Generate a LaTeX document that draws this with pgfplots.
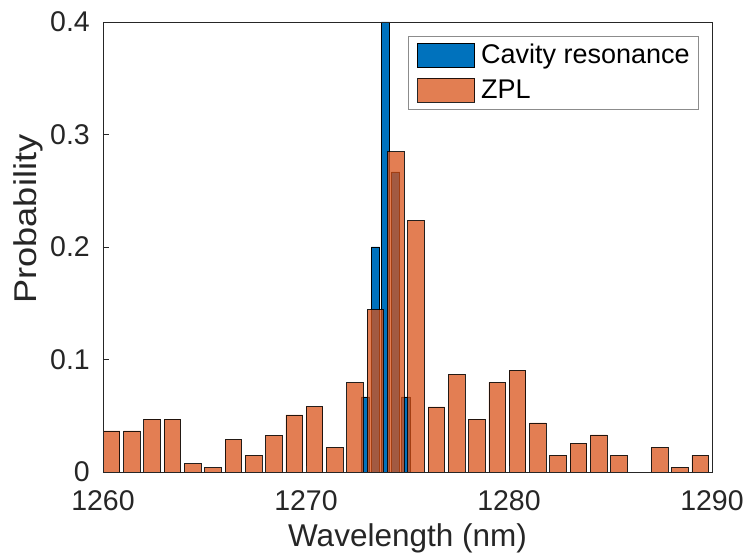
\documentclass[border=0pt]{standalone}
\usepackage{fontspec}
\setmainfont{Liberation Sans}
\usepackage{graphicx}
\usepackage{pgfplots}
\pgfplotsset{compat=1.18}
\definecolor{mblue}{rgb}{0,0.447,0.741}
\definecolor{morange}{rgb}{0.85,0.325,0.098}
\definecolor{axgray}{rgb}{0.15,0.15,0.15}
\begin{document}
\begin{tikzpicture}
\begin{axis}[
  scale only axis, width=609pt, height=450pt,
  xmin=1260, xmax=1290, ymin=0, ymax=0.4,
  xtick={1260,1270,1280,1290}, ytick={0,0.1,0.2,0.3,0.4},
  yticklabels={0,0.1,0.2,0.3,0.4},
  xtick pos=bottom, ytick pos=left,
  /pgf/number format/assume math mode=true,
  /pgf/number format/1000 sep={},
  tick align=inside, major tick length=6pt,
  axis line style={axgray, line width=0.8pt},
  tick style={axgray, line width=0.8pt},
  axis on top,
  tick label style={font=\fontsize{28.5}{30}\selectfont, text=axgray},
  xticklabel style={anchor=north, inner sep=0pt, yshift=-18pt},
  yticklabel style={anchor=east, inner sep=0pt, xshift=-13pt},
  xlabel={Wavelength (nm)},
  ylabel={\scalebox{1.15}[1]{Probability}},
  label style={font=\fontsize{31.5}{33}\selectfont, text=axgray},
  x label style={at={(axis description cs:0.5,-0.166)}, anchor=base, inner sep=0pt},
  y label style={at={(axis description cs:-0.1084,0.562)}, anchor=base, inner sep=0pt},
  legend style={at={(0.9787,0.9689)}, anchor=north east, draw=black!45, line width=0.8pt,
    fill=white, inner xsep=9pt, inner ysep=7pt, row sep=9.5pt, column sep=6pt,
    font=\fontsize{27}{29}\selectfont,
    nodes={inner sep=0pt, text height=18pt, text depth=2pt}},
  legend cell align=left,
  legend image code/.code={\draw[#1, line width=0.8pt] (0pt,-12pt) rectangle (57pt,12pt);},
]
\addplot[ybar, bar width=0.41, bar shift=0pt, fill=mblue, draw=black, line width=0.8pt]
  coordinates {(1272.92,0.0667) (1273.42,0.2) (1273.92,0.4) (1274.42,0.2667) (1274.92,0.0667)};
\addlegendentry{Cavity resonance}
\addplot[ybar, bar width=0.82, bar shift=0pt, fill=morange, fill opacity=0.75, draw=black, draw opacity=0.85, line width=0.8pt]
  coordinates {
  (1260.42,0.0365) (1261.42,0.0365) (1262.42,0.0471) (1263.42,0.0471)
  (1264.42,0.0074) (1265.42,0.0039) (1266.42,0.0290) (1267.42,0.0148)
  (1268.42,0.0326) (1269.42,0.0507) (1270.42,0.0581) (1271.42,0.0219)
  (1272.42,0.0795) (1273.42,0.1444) (1274.42,0.2846) (1275.42,0.2235)
  (1276.42,0.0578) (1277.42,0.0868) (1278.42,0.0471) (1279.42,0.0797)
  (1280.42,0.0904) (1281.42,0.0436) (1282.42,0.0148) (1283.42,0.0255)
  (1284.42,0.0329) (1285.42,0.0148) (1287.42,0.0219) (1288.42,0.0041)
  (1289.42,0.0148)};
\addlegendentry{ZPL}
\end{axis}
\pgfresetboundingbox
\path (current axis.south west) ++(-103pt,-84pt) rectangle ++(749pt,556pt);
\end{tikzpicture}
\end{document}
